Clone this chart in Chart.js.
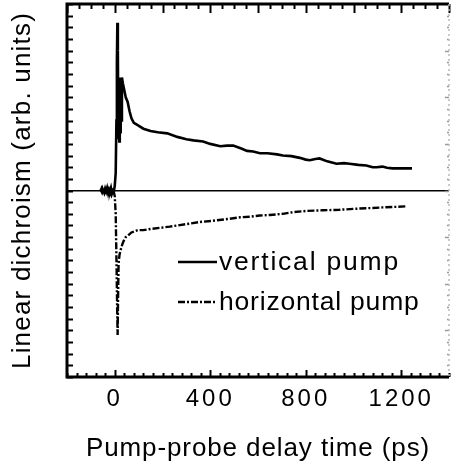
<!DOCTYPE html>
<html><head><meta charset="utf-8">
<script src="https://cdn.jsdelivr.net/npm/chart.js@4/dist/chart.umd.min.js"></script>
<style>html,body{margin:0;padding:0;background:#fff;}</style>
</head><body>
<canvas id="c" width="451" height="464"></canvas>
<script>
// ---- data ----
const verticalT = [-60,-56,-52,-48,-44,-40,-36,-32,-28,-24,-20,-16,-12,-8,-4,0,4,7,9,11,13,15,17,19,21,23,25,27,30,34,40,46,54,62,70,80,96,120,150,180,220,262,300,330,370,400,442,470,496,530,554,580,608,640,680,704,740,775,800,817,840,858,890,929,960,983,1020,1054,1080,1096,1121,1140,1163,1200,1245];
const verticalY = [0.01,-0.005,0.02,0.0,-0.02,0.015,-0.01,0.02,-0.02,0.01,-0.01,0.02,-0.025,0.0,-0.01,0.04,0.15,0.6,1.1,1.44,1.2,0.45,0.95,0.42,0.97,0.5,0.95,0.6,0.97,0.92,0.86,0.8,0.76,0.68,0.62,0.58,0.56,0.53,0.51,0.5,0.49,0.46,0.44,0.43,0.42,0.4,0.38,0.385,0.385,0.36,0.34,0.335,0.32,0.32,0.31,0.3,0.295,0.28,0.265,0.26,0.27,0.275,0.25,0.23,0.235,0.23,0.22,0.215,0.2,0.2,0.205,0.195,0.19,0.19,0.19];
const horizontalT = [-60,-56,-52,-48,-44,-40,-36,-32,-28,-24,-20,-16,-12,-8,-4,0,4,8,10,12,14,16,20,26,32,38,46,54,70,96,120,150,192,230,262,310,358,410,471,525,567,608,650,704,750,804,870,942,1025,1080,1121,1180,1225];
const horizontalY = [-0.005,0.015,-0.015,0.005,-0.02,0.01,-0.005,0.015,-0.02,0.005,-0.015,0.01,-0.02,0.0,-0.01,-0.05,-0.2,-0.7,-1.0,-1.24,-0.9,-0.63,-0.55,-0.5,-0.46,-0.43,-0.4,-0.39,-0.36,-0.34,-0.34,-0.33,-0.32,-0.31,-0.3,-0.285,-0.27,-0.26,-0.245,-0.23,-0.225,-0.215,-0.21,-0.2,-0.185,-0.175,-0.17,-0.165,-0.155,-0.15,-0.145,-0.14,-0.135];
const seriesLabels = ['vertical pump', 'horizontal pump'];
const xTickValues = [0, 400, 800, 1200];
const xTitle = 'Pump-probe delay time (ps)';
const yTitle = 'Linear dichroism (arb. units)';
const xRange = [-200, 1400];
const yRange = [-1.6, 1.6];

const FONT = "'Liberation Sans', Arial, sans-serif";
const toPts = (ts, ys) => ts.map((t, i) => ({x: t, y: ys[i]}));
const SPACING = {x: {drawTitle: '0.9px', drawLabels: '3px'}, y: {drawTitle: '1.2px'}};

const framePlugin = {
  id: 'frame',
  afterLayout(chart) {
    for (const id of Object.keys(SPACING)) {
      const s = chart.scales[id];
      if (!s || s._spaced) continue;
      s._spaced = true;
      for (const name of Object.keys(SPACING[id])) {
        const orig = s[name];
        const sp = SPACING[id][name];
        s[name] = function (...args) {
          const c = this.ctx; const prev = c.letterSpacing;
          c.letterSpacing = sp; orig.apply(this, args); c.letterSpacing = prev;
        };
      }
    }
  },
  afterDatasetsDraw(chart) {
    const {ctx, chartArea: a, scales: {x, y}} = chart;
    ctx.save();
    ctx.letterSpacing = '0px';
    ctx.strokeStyle = '#000';
    // left ticks (inward)
    ctx.lineWidth = 2;
    for (let i = -16; i <= 16; i++) {
      const py = Math.round(y.getPixelForValue(i / 10)) + 0.5;
      ctx.beginPath(); ctx.moveTo(a.left, py); ctx.lineTo(a.left + 6, py); ctx.stroke();
    }
    // right ticks (faint)
    ctx.strokeStyle = '#999';
    ctx.lineWidth = 1.5;
    for (let i = -16; i <= 16; i++) {
      const py = Math.round(y.getPixelForValue(i / 10)) + 0.5;
      const len = (i % 4 === 0) ? 4 : 2;
      ctx.beginPath(); ctx.moveTo(a.right, py); ctx.lineTo(a.right - len, py); ctx.stroke();
    }
    ctx.strokeStyle = '#000';
    ctx.lineWidth = 2;
    // top ticks
    for (let t = -200; t <= 1400; t += 50) {
      const px = Math.round(x.getPixelForValue(t)) + 0.5;
      const len = (t % 200 === 0) ? 9 : 5;
      ctx.beginPath(); ctx.moveTo(px, a.top); ctx.lineTo(px, a.top + len); ctx.stroke();
    }
    // bottom ticks
    for (let t = -200; t <= 1400; t += 40) {
      const px = Math.round(x.getPixelForValue(t)) + 0.5;
      const len = (t % 400 === 0) ? 7 : 4;
      ctx.beginPath(); ctx.moveTo(px, a.bottom); ctx.lineTo(px, a.bottom - len); ctx.stroke();
    }
    // frame
    ctx.lineWidth = 3;
    ctx.beginPath();
    ctx.moveTo(a.right, a.top); ctx.lineTo(a.left, a.top); ctx.lineTo(a.left, a.bottom); ctx.lineTo(a.right, a.bottom);
    ctx.stroke();
    ctx.strokeStyle = '#bbb';
    ctx.lineWidth = 1.5;
    ctx.setLineDash([2, 3]);
    ctx.beginPath(); ctx.moveTo(a.right, a.top); ctx.lineTo(a.right, a.bottom); ctx.stroke();
    ctx.setLineDash([]);
    // legend
    ctx.font = '26.5px ' + FONT;
    ctx.fillStyle = '#000';
    ctx.textBaseline = 'middle';
    ctx.textAlign = 'left';
    const lx0 = a.left + 111, lx1 = a.left + 150, tx = a.left + 152;
    const rows = [a.top + 258, a.top + 298];
    const spacings = ['1.8px', '0.8px'];
    chart.data.datasets.forEach((ds, i) => {
      ctx.strokeStyle = ds.borderColor;
      ctx.lineWidth = ds.borderWidth;
      ctx.setLineDash(ds.borderDash || []);
      ctx.beginPath(); ctx.moveTo(lx0, rows[i]); ctx.lineTo(lx1, rows[i]); ctx.stroke();
      ctx.setLineDash([]);
      ctx.letterSpacing = spacings[i];
      ctx.fillText(ds.label, tx, rows[i] + 1);
    });
    ctx.restore();
  }
};

new Chart(document.getElementById('c'), {
  type: 'line',
  data: {
    datasets: [
      {label: seriesLabels[0], data: toPts(verticalT, verticalY), borderColor: '#000', borderWidth: 2.6, pointRadius: 0, tension: 0, fill: false},
      {label: seriesLabels[1], data: toPts(horizontalT, horizontalY), borderColor: '#000', borderWidth: 2.4, borderDash: [7, 2, 2, 2], pointRadius: 0, tension: 0, fill: false}
    ]
  },
  options: {
    responsive: false,
    animation: false,
    devicePixelRatio: 1,
    layout: {padding: {top: 4, right: 2, left: 0, bottom: 0}},
    plugins: {legend: {display: false}, tooltip: {enabled: false}},
    scales: {
      x: {
        type: 'linear', min: xRange[0], max: xRange[1],
        afterBuildTicks: s => { s.ticks = xTickValues.map(v => ({value: v})); },
        afterFit: s => { s.height = 87; },
        grid: {display: false, drawTicks: false},
        border: {display: false},
        ticks: {color: '#000', font: {family: FONT, size: 24}, padding: 8, maxRotation: 0, autoSkip: false, callback: v => String(v)},
        title: {display: true, text: xTitle, color: '#000', font: {family: FONT, size: 26}, padding: {top: 2, bottom: 0}}
      },
      y: {
        type: 'linear', min: yRange[0], max: yRange[1],
        afterBuildTicks: s => { s.ticks = [{value: 0}]; },
        afterFit: s => { s.width = 67; },
        grid: {drawTicks: false, color: '#000', lineWidth: 1.6},
        border: {display: false},
        ticks: {display: false},
        title: {display: true, text: yTitle, color: '#000', font: {family: FONT, size: 26}, padding: {top: 7, bottom: 0}}
      }
    }
  },
  plugins: [framePlugin]
});
</script>
</body></html>
